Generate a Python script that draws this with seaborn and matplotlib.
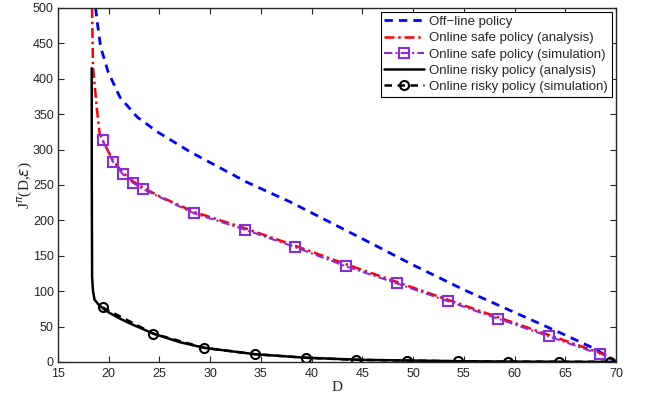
import numpy as np
import pandas as pd
import seaborn as sns
import matplotlib.pyplot as plt

# off-line policy
d_off = [18.7, 18.84, 19.2, 19.93, 21.1, 22.8, 24.8, 28.0, 33.6, 37.9, 45, 50, 55, 60, 65, 68, 70]
j_off = [500, 483, 445, 410, 374, 346, 325, 297, 254, 226, 174, 137, 102, 70, 38, 18, 0]

# online safe policy
d_safe = [18.35, 18.45, 18.84, 19.1, 19.4, 20.4, 21.4, 22.4, 23.4, 25, 28.4, 33.4, 38.4,
          43.4, 48.4, 53.4, 58.4, 63.4, 68.4, 70]
j_safe = [500, 417, 356, 323, 313, 285, 267, 255, 246, 234, 212, 189, 164,
          138, 113, 88, 63, 38, 13, 2]
d_safe_sim = [19.4, 20.4, 21.4, 22.4, 23.4, 28.4, 33.4, 38.4, 43.4, 48.4, 53.4, 58.4, 63.4, 68.4]
j_safe_sim = [313, 283, 265, 253, 244, 210, 187, 162, 135, 111, 86, 61, 36, 11]

# online risky policy
d_risky = [18.32, 18.33, 18.36, 18.45, 18.6, 19.0, 19.4, 20.0, 21.0, 22.0, 24.4, 27.0,
           29.4, 34.4, 39.4, 45, 50, 55, 60, 65, 70]
j_risky = [415, 250, 120, 100, 88, 81, 76, 70, 62, 55, 40, 28,
           20, 11, 6, 3, 2, 1, 0.5, 0.3, 0]
d_risky_sim = [19.4, 24.4, 29.4, 34.4, 39.4, 44.4, 49.4, 54.4, 59.4, 64.4, 69.4]
j_risky_sim = [77, 40, 20, 11, 6, 3, 2, 1, 0.5, 0.3, 0.2]

sns.set_style('ticks')
plt.rcParams['font.family'] = ['Liberation Sans', 'DejaVu Sans']
plt.rcParams['xtick.direction'] = 'in'
plt.rcParams['ytick.direction'] = 'in'

fig = plt.figure(figsize=(6.46, 3.98), dpi=100)
ax = fig.add_axes([0.0898, 0.0905, 0.8638, 0.8895])

sns.lineplot(x=d_off, y=j_off, ax=ax, color='#0000ff', lw=2, sort=False,
             label='Off\u2212line policy', linestyle=(0, (3, 2.2)))
sns.lineplot(x=d_safe, y=j_safe, ax=ax, color='#ff0000', lw=1.8, sort=False,
             label='Online safe policy (analysis)', linestyle=(0, (4, 1.5, 1, 1.5)))
sns.lineplot(x=d_safe_sim, y=j_safe_sim, ax=ax, color='#8a2be2', lw=1.5, sort=False,
             label='Online safe policy (simulation)', linestyle=(0, (4, 1.5, 1, 1.5)),
             marker='s', markersize=7, markerfacecolor='none',
             markeredgecolor='#8a2be2', markeredgewidth=1.5)
sns.lineplot(x=d_risky, y=j_risky, ax=ax, color='black', lw=1.8, sort=False,
             label='Online risky policy (analysis)')
sns.lineplot(x=d_risky_sim, y=j_risky_sim, ax=ax, color='black', lw=1.8, sort=False,
             label='Online risky policy (simulation)', linestyle=(0, (3, 2.2)),
             marker='o', markersize=6.5, markerfacecolor='none',
             markeredgecolor='black', markeredgewidth=1.5)

ax.set_xlim(15, 70)
ax.set_ylim(0, 500)
ax.set_xticks(np.arange(15, 71, 5))
ax.set_yticks(np.arange(0, 501, 50))
ax.tick_params(labelsize=9, top=True, right=True, length=4, width=0.8)
ax.tick_params(axis='x', pad=4)
ax.tick_params(axis='y', pad=3)
for s in ax.spines.values():
    s.set_linewidth(1.0)
    s.set_visible(True)

ax.set_xlabel('D', fontsize=11, family='Liberation Serif', labelpad=1)
ax.set_ylabel(r'J$^{\pi}$(D,$\varepsilon$)', fontsize=11, family='Liberation Serif', labelpad=-1)

leg = ax.legend(loc='upper right', fontsize=9.5, frameon=True, fancybox=False,
                edgecolor='black', framealpha=1, handlelength=3.0, borderpad=0.3,
                labelspacing=0.3, handletextpad=0.4, borderaxespad=0.3)
leg.get_frame().set_linewidth(0.8)

fig.savefig('out.png', dpi=100)
